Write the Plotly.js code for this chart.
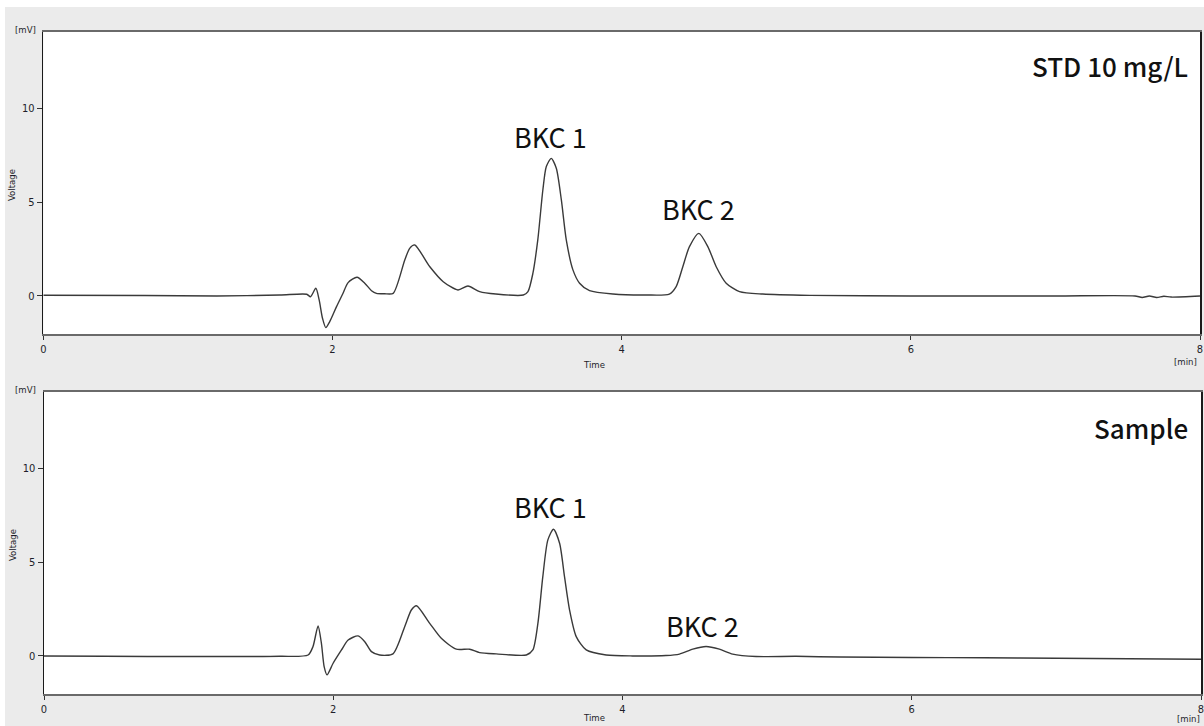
<!DOCTYPE html>
<html>
<head>
<meta charset="utf-8">
<script src="https://cdn.plot.ly/plotly-3.0.1.min.js"></script>
<style>
  html, body { margin: 0; padding: 0; background: #ffffff; width: 1204px; height: 726px; overflow: hidden; }
  #chart { position: absolute; left: 5px; top: 7px; width: 1199px; height: 719px; }
</style>
</head>
<body>
<div id="chart"></div>
<script>
// ---- Data ----
const stdTime = [0, 0.7, 1.2, 1.636, 1.822, 1.848, 1.885, 1.908, 1.931, 1.954, 1.981, 2.028, 2.073, 2.108, 2.17, 2.223, 2.27, 2.304, 2.36, 2.42, 2.50, 2.534, 2.569, 2.672, 2.766, 2.868, 2.937, 3.018, 3.13, 3.32, 3.352, 3.386, 3.42, 3.455, 3.479, 3.513, 3.548, 3.583, 3.617, 3.663, 3.709, 3.778, 3.94, 4.17, 4.33, 4.377, 4.423, 4.469, 4.534, 4.596, 4.654, 4.723, 4.815, 4.976, 5.3, 6.0, 7.0, 7.55, 7.6, 7.65, 7.7, 7.75, 7.8, 8.0];
const stdVolt = [0.04, 0.02, 0, 0.05, 0.09, -0.04, 0.41, -0.21, -1.19, -1.69, -1.37, -0.57, 0.14, 0.71, 1.0, 0.68, 0.28, 0.14, 0.12, 0.14, 1.92, 2.54, 2.72, 1.57, 0.76, 0.32, 0.53, 0.23, 0.1, 0.05, 0.23, 1.2, 2.99, 5.65, 6.9, 7.34, 6.81, 5.12, 2.99, 1.39, 0.68, 0.28, 0.1, 0.05, 0.1, 0.5, 1.56, 2.63, 3.34, 2.63, 1.56, 0.68, 0.23, 0.1, 0.03, 0, 0, 0, -0.08, 0, -0.08, -0.02, -0.06, 0];

const sampleTime = [0, 0.42, 1.0, 1.63, 1.826, 1.86, 1.895, 1.918, 1.937, 1.957, 1.999, 2.057, 2.103, 2.172, 2.218, 2.264, 2.321, 2.413, 2.494, 2.54, 2.575, 2.667, 2.747, 2.851, 2.943, 3.012, 3.127, 3.335, 3.38, 3.415, 3.449, 3.484, 3.523, 3.565, 3.599, 3.634, 3.68, 3.749, 3.887, 4.07, 4.30, 4.394, 4.486, 4.578, 4.67, 4.762, 4.924, 5.2, 5.5, 6.0, 6.5, 7.0, 7.5, 8.0];
const sampleVolt = [0, -0.02, -0.03, -0.02, 0.05, 0.5, 1.6, 0.68, -0.57, -1.01, -0.39, 0.32, 0.85, 1.07, 0.76, 0.23, 0.05, 0.11, 1.56, 2.45, 2.68, 1.74, 0.94, 0.36, 0.36, 0.18, 0.11, 0.05, 0.32, 1.74, 4.23, 6.19, 6.76, 6.01, 4.23, 2.45, 1.03, 0.32, 0.05, 0, 0.02, 0.1, 0.36, 0.5, 0.36, 0.1, -0.03, -0.02, -0.06, -0.08, -0.1, -0.12, -0.15, -0.18];

const xTickVals = [0, 2, 4, 6, 8];
const xTickText = ['0', '2', '4', '6', '8'];
const yTickVals = [0, 5, 10];
const yTickText = ['0', '5', '10'];

const panelLabels = ['STD 10 mg/L', 'Sample'];
const peakNames = ['BKC 1', 'BKC 2'];
const peakLabelTimesStd = [3.51, 4.53];
const peakLabelVoltStd = [8.53, 4.64];
const peakLabelTimesSample = [3.50, 4.556];
const peakLabelVoltSample = [7.95, 1.6];

// ---- Layout helpers ----
const W = 1199, H = 719, OX = 5, OY = 7;
const px = x => (x - OX) / W;
const py = y => 1 - (y - OY) / H;

const lineStyle = { color: '#3a3a3a', width: 1.4, shape: 'spline', smoothing: 0.7 };

const traces = [
  { x: stdTime, y: stdVolt, type: 'scatter', mode: 'lines', line: lineStyle, xaxis: 'x', yaxis: 'y', hoverinfo: 'skip' },
  { x: sampleTime, y: sampleVolt, type: 'scatter', mode: 'lines', line: lineStyle, xaxis: 'x2', yaxis: 'y2', hoverinfo: 'skip' }
];

const tickFont = { family: 'DejaVu Sans Condensed, DejaVu Sans, sans-serif', size: 11, color: '#1e1e2a' };
const smallFont = { family: 'DejaVu Sans Condensed, DejaVu Sans, sans-serif', size: 9.5, color: '#1e1e2a' };

function xAxis(domain, anchor) {
  return {
    domain: domain, anchor: anchor, range: [0, 8], tickvals: xTickVals, ticktext: xTickText,
    ticks: 'outside', ticklen: 4, tickcolor: '#333', tickwidth: 1,
    showline: true, linecolor: '#6a6a6a', linewidth: 2, mirror: true,
    showgrid: false, zeroline: false, tickfont: tickFont, fixedrange: true,
    ticklabeloverflow: 'allow'
  };
}
function yAxis(domain, anchor) {
  return {
    domain: domain, anchor: anchor, range: [-2.03, 14.08], tickvals: yTickVals, ticktext: yTickText,
    ticks: 'outside', ticklen: 5, tickcolor: '#333', tickwidth: 1,
    showline: true, linecolor: '#1a1a1a', linewidth: 1.5, mirror: true,
    showgrid: false, zeroline: false, tickfont: tickFont, fixedrange: true
  };
}

const bigFont = { family: 'Noto Sans CJK SC, Noto Sans, sans-serif', size: 27, color: '#111' };
const boldFont = { family: 'Noto Sans CJK SC, Noto Sans, sans-serif', size: 26, color: '#111', weight: 500 };

const annotations = [];
// panel labels
annotations.push({ xref: 'paper', yref: 'paper', x: px(1190), y: py(65), xanchor: 'right', yanchor: 'middle', text: panelLabels[0], showarrow: false, font: boldFont });
annotations.push({ xref: 'paper', yref: 'paper', x: px(1190), y: py(427), xanchor: 'right', yanchor: 'middle', text: panelLabels[1], showarrow: false, font: boldFont });
// peak labels
peakNames.forEach((n, i) => {
  annotations.push({ xref: 'x', yref: 'y', x: peakLabelTimesStd[i], y: peakLabelVoltStd[i], text: n, showarrow: false, font: bigFont, xanchor: 'center', yanchor: 'middle' });
  annotations.push({ xref: 'x2', yref: 'y2', x: peakLabelTimesSample[i], y: peakLabelVoltSample[i], text: n, showarrow: false, font: bigFont, xanchor: 'center', yanchor: 'middle' });
});
// axis decorations
[[29, 185, 364, 362, 1199], [389, 545, 717, 718, 1202]].forEach(([mvY, voltY, timeY, minY, minX]) => {
  annotations.push({ xref: 'paper', yref: 'paper', x: px(26), y: py(mvY), text: '[mV]', showarrow: false, font: smallFont, xanchor: 'center', yanchor: 'middle' });
  annotations.push({ xref: 'paper', yref: 'paper', x: px(12), y: py(voltY), text: 'Voltage', textangle: -90, showarrow: false, font: smallFont, xanchor: 'center', yanchor: 'middle' });
  annotations.push({ xref: 'paper', yref: 'paper', x: px(594), y: py(timeY), text: 'Time', showarrow: false, font: smallFont, xanchor: 'center', yanchor: 'middle' });
  annotations.push({ xref: 'paper', yref: 'paper', x: px(minX), y: py(minY), text: '[min]', showarrow: false, font: smallFont, xanchor: 'right', yanchor: 'middle' });
});

const layout = {
  width: W, height: H,
  margin: { l: 0, r: 0, t: 0, b: 0, pad: 0 },
  paper_bgcolor: '#ebebeb', plot_bgcolor: '#ffffff',
  showlegend: false,
  xaxis: xAxis([px(43.3), px(1200)], 'y'),
  yaxis: yAxis([py(334), py(32)], 'x'),
  xaxis2: xAxis([px(44), px(1201)], 'y2'),
  yaxis2: yAxis([py(694), py(392)], 'x2'),
  annotations: annotations
};

Plotly.newPlot('chart', traces, layout, { displayModeBar: false, staticPlot: true });
</script>
</body>
</html>
